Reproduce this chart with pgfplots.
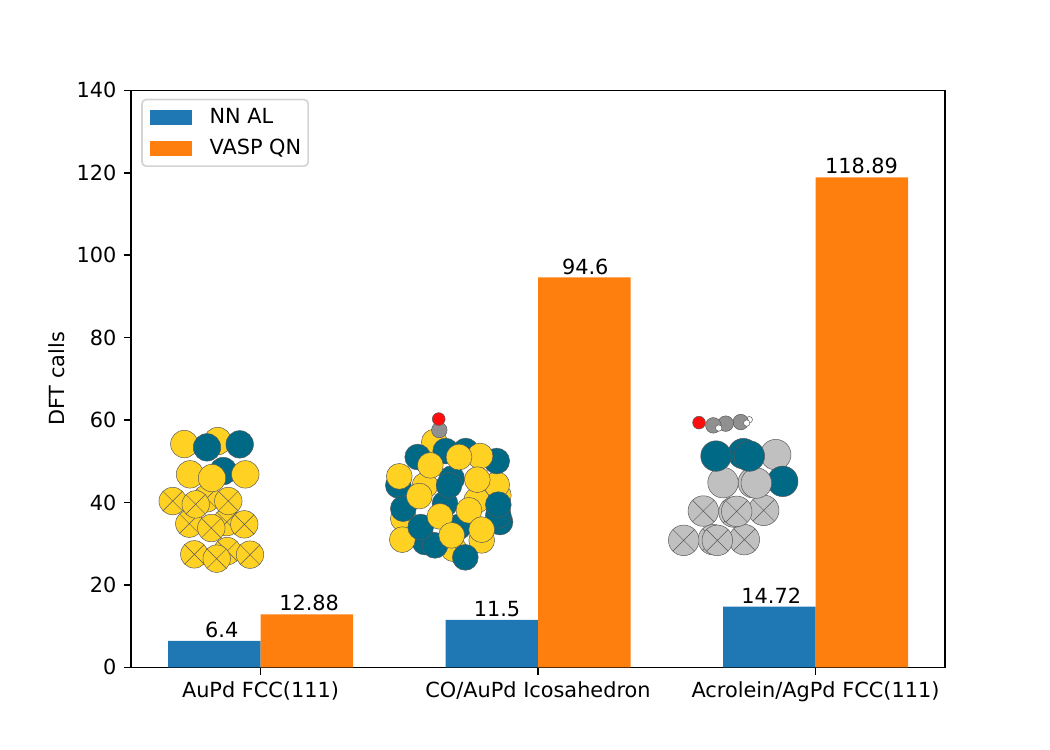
\documentclass[border=0pt]{standalone}
\usepackage{pgfplots}
\usepackage{fontspec}
\setmainfont[Scale=1.506]{DejaVu Sans}
\pgfplotsset{compat=1.18}
\definecolor{tabblue}{HTML}{1F77B4}
\definecolor{taborange}{HTML}{FF7F0E}
\definecolor{augold}{HTML}{FFD123}
\definecolor{pdteal}{HTML}{006985}
\definecolor{aggray}{HTML}{C0C0C0}
\definecolor{cgray}{HTML}{909090}
\definecolor{ored}{HTML}{FF0D0D}
\pgfdeclareplotmark{xatom}{%
  \pgfpathcircle{\pgfpointorigin}{\pgfplotmarksize}\pgfusepathqfillstroke
  \pgfpathmoveto{\pgfpointpolar{45}{\pgfplotmarksize}}\pgfpathlineto{\pgfpointpolar{225}{\pgfplotmarksize}}
  \pgfpathmoveto{\pgfpointpolar{135}{\pgfplotmarksize}}\pgfpathlineto{\pgfpointpolar{315}{\pgfplotmarksize}}
  \pgfusepathqstroke}
\pgfplotsset{
  atoms/.style={
    scatter, only marks, scatter src=explicit symbolic,
    scatter/classes={
      au={mark=*,mark size=#1,fill=augold,draw=black!65,line width=.35bp},
      aux={mark=xatom,mark size=#1,fill=augold,draw=black!65,line width=.35bp},
      pd={mark=*,mark size=#1,fill=pdteal,draw=black!65,line width=.35bp},
      ag={mark=*,mark size=#1,fill=aggray,draw=black!65,line width=.35bp},
      agx={mark=xatom,mark size=#1,fill=aggray,draw=black!65,line width=.35bp},
      c={mark=*,mark size=5.6bp,fill=cgray,draw=black!65,line width=.35bp},
      o={mark=*,mark size=4.6bp,fill=ored,draw=black!65,line width=.35bp},
      h={mark=*,mark size=2.3bp,fill=white,draw=black!65,line width=.35bp}
    }
  }
}
\begin{document}
\begin{tikzpicture}[x=1bp,y=1bp]
\path[use as bounding box] (0,0) rectangle (756,540);
\begin{axis}[
  at={(94.32bp,59.5bp)}, anchor=south west,
  scale only axis, width=586.08bp, height=415.44bp,
  xmin=-0.4667, xmax=2.4667, ymin=0, ymax=140,
  xtick={0,1,2},
  xticklabels={AuPd FCC(111),CO/AuPd Icosahedron,Acrolein/AgPd FCC(111)},
  ytick={0,20,...,140},
  /pgf/number format/assume math mode=true,
  tick align=outside, tick pos=left,
  major tick length=5.25bp,
  every tick/.style={black,line width=1.2bp},
  axis line style={line width=1.2bp},
  ylabel={DFT calls},
  every axis y label/.style={at={(axis description cs:-0.0909,0.5)},rotate=90,anchor=center},
  visualization depends on={value \thisrow{dx} \as \labeldx},
  nodes near coords,
  nodes near coords style={/pgf/number format/.cd,fixed,precision=2,assume math mode=true,/tikz/.cd,anchor=south,inner sep=0pt,yshift=2bp,xshift=\labeldx bp},
  legend style={at={(7.3bp,409.4bp)},anchor=north west,draw=black!17,line width=1.2bp,rounded corners=3bp,
    inner xsep=3bp,inner ysep=4.2bp,row sep=5bp,
    /tikz/every odd column/.style={column sep=10.8bp}},
  legend cell align=left,
  legend image code/.code={\path (0,0); \path[#1,sharp corners] (2.9bp,-5.25bp) rectangle (32.9bp,5.25bp);},
]
\addplot[ybar,bar width=0.3333,bar shift=-0.16667,fill=tabblue,draw=none] table[x=x,y=y] {
x y dx
0 6.4 -27.9
1 11.5 -29.5
2 14.72 -31.9
};
\addlegendentry{NN AL}
\addplot[ybar,bar width=0.3333,bar shift=0.16667,fill=taborange,draw=none] table[x=x,y=y] {
x y dx
0 12.88 35
1 94.6 34
2 118.89 33.1
};
\addlegendentry{VASP QN}
\end{axis}
\begin{axis}[
  at={(94.32bp,59.5bp)}, anchor=south west,
  scale only axis, width=586.08bp, height=415.44bp,
  hide axis, xmin=131, xmax=945, ymin=90, ymax=667, y dir=reverse, clip=false,
]
\addplot[atoms=9.9bp] coordinates {
(227.3,550.7)[aux] (194.3,554)[aux] (250,554.3)[aux] (216.7,558.3)[aux]
(226.7,521.7)[aux] (189.3,523.3)[aux] (244.3,524)[aux] (211.3,527.7)[aux]
(206.7,498)[aux] (172.7,500.7)[aux] (228.3,500.7)[aux] (195.7,504)[aux]
(223.3,470.7)[pd] (190,474)[au] (245.3,474)[au] (212,477.7)[au]
(217.7,440.7)[au] (184.3,443.7)[au] (207,447)[pd] (239.7,444)[pd]
};
\addplot[atoms=9.3bp] coordinates {
(500,521.7)[pd] (498.3,515)[pd] (498.3,495)[au] (496.7,484.3)[au] (496.7,460.7)[pd]
(434.3,441.7)[au] (465.7,450.7)[pd] (445.7,450.7)[pd] (417.7,456.7)[pd]
(439.3,429.7)[c] (438.7,418.7)[o]
(398.3,485)[pd] (425,485)[au] (451.7,478.3)[pd] (476.7,500)[au]
(481.7,540)[au] (453.3,548.3)[au] (425,541.7)[pd] (435,545)[pd]
(445,503.3)[pd] (403.3,518.3)[au] (403.3,508.3)[pd] (458.3,526.7)[pd] (402.3,539.3)[au]
(480,455.7)[au] (459,456.7)[au] (430.3,465)[au] (399.3,476)[au] (449,485)[pd]
(419.3,495.7)[au] (477.3,479.3)[au] (498.3,504.3)[pd] (469,510)[au]
(420.7,526.7)[pd] (440,516)[au] (451.7,535)[au] (481.7,529.3)[au] (465.3,557)[pd]
};
\addplot[atoms=11bp] coordinates {
(713.3,539.3)[agx] (744.3,539.3)[agx] (683.7,540)[agx] (717.3,540)[agx]
(734,511.7)[agx] (763.7,510)[agx] (703.3,510.7)[agx] (736.7,511)[agx]
(775.7,454.3)[ag] (782.7,481)[pd] (753.3,482.3)[ag] (723,482.3)[ag] (756.3,482.7)[ag]
(743.3,453.3)[pd] (716,455.7)[pd] (749.3,455.7)[pd]
(749.3,419.3)[h] (740.7,421.7)[c] (746.7,422.7)[h] (725.7,423.3)[c] (713.3,425)[c]
(718.7,427.7)[h] (699,422.3)[o]
};
\end{axis}
\end{tikzpicture}
\end{document}
